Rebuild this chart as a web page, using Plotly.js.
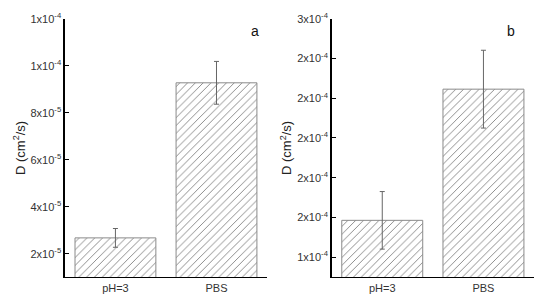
<!DOCTYPE html>
<html>
<head>
<meta charset="utf-8">
<script src="https://cdn.plot.ly/plotly-3.0.1.min.js"></script>
<style>
  html,body{margin:0;padding:0;background:#fff;}
  #chart{width:550px;height:300px;}
</style>
</head>
<body>
<div id="chart"></div>
<script>
// ===== data =====
const categories = ['pH=3', 'PBS'];

// panel a
const diffA = [2.68e-5, 9.28e-5];
const errA  = [0.40e-5, 0.91e-5];
const tickValsA = [2e-5, 4e-5, 6e-5, 8e-5, 1e-4, 1.2e-4];
const tickTextA = ['2x10<sup>-5</sup>', '4x10<sup>-5</sup>', '6x10<sup>-5</sup>', '8x10<sup>-5</sup>', '1x10<sup>-4</sup>', '1x10<sup>-4</sup>'];

// panel b
const diffB = [1.585e-4, 2.246e-4];
const errB  = [0.145e-4, 0.196e-4];
const tickValsB = [1.4e-4, 1.6e-4, 1.8e-4, 2.0e-4, 2.2e-4, 2.4e-4, 2.6e-4];
const tickTextB = ['1x10<sup>-4</sup>', '2x10<sup>-4</sup>', '2x10<sup>-4</sup>', '2x10<sup>-4</sup>', '2x10<sup>-4</sup>', '2x10<sup>-4</sup>', '3x10<sup>-4</sup>'];

// ===== style helpers =====
const FONT = 'Liberation Sans, Arial, sans-serif';
function barTrace(y, err, xa, ya){
  return {
    type:'bar', x:categories, y:y, xaxis:xa, yaxis:ya, width:0.8,
    marker:{color:'#fff', line:{color:'#8a8a8a', width:1},
      pattern:{shape:'/', fgcolor:'#808080', bgcolor:'#fff', size:5.5, solidity:0.16}},
    error_y:{type:'data', array:err, visible:true, color:'#666', thickness:1, width:2.5},
    hoverinfo:'skip', showlegend:false
  };
}
function yAxis(vals, text, range, anchor){
  return {anchor:anchor, domain:[0.077, 0.937], range:range, tickmode:'array', tickvals:vals, ticktext:text,
    ticks:'inside', ticklen:4, tickwidth:1, tickcolor:'#000', showline:true, linecolor:'#000', linewidth:1.5,
    showgrid:false, zeroline:false, tickfont:{family:FONT, size:11, color:'#333'},
    title:{text:'D (cm<sup>2</sup>/s)', font:{family:FONT, size:13, color:'#222'}, standoff:2}};
}
function xAxis(domain, anchor){
  return {anchor:anchor, domain:domain, range:[-0.5, 1.5], showline:true, linecolor:'#000', linewidth:1.5,
    ticks:'', showgrid:false, zeroline:false, tickfont:{family:FONT, size:11, color:'#333'}};
}

const data = [
  barTrace(diffA, errA, 'x', 'y'),
  barTrace(diffB, errB, 'x2', 'y2')
];

const layout = {
  width:550, height:300, margin:{l:0, r:0, t:0, b:0},
  paper_bgcolor:'#fff', plot_bgcolor:'#fff',
  xaxis: xAxis([0.118, 0.4855], 'y'),
  yaxis: yAxis(tickValsA, tickTextA, [1.02e-5, 1.2e-4], 'x'),
  xaxis2: xAxis([0.603, 0.971], 'y2'),
  yaxis2: yAxis(tickValsB, tickTextB, [1.3e-4, 2.6e-4], 'x2'),
  annotations:[
    {text:'a', xref:'paper', yref:'paper', x:255/550, y:1-21/300, showarrow:false, font:{family:FONT, size:14, color:'#111'}},
    {text:'b', xref:'paper', yref:'paper', x:517/550, y:1-21/300, showarrow:false, font:{family:FONT, size:14, color:'#111'}}
  ]
};

Plotly.newPlot('chart', data, layout, {displayModeBar:false, staticPlot:true});
</script>
</body>
</html>
